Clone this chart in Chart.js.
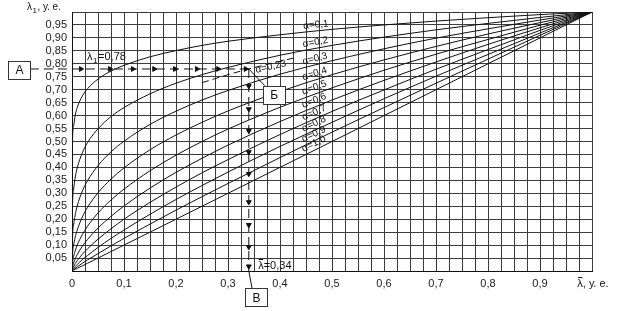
<!DOCTYPE html>
<html>
<head>
<meta charset="utf-8">
<script src="https://cdn.jsdelivr.net/npm/chart.js@4"></script>
<style>
html,body{margin:0;padding:0;background:#fff;}
#wrap{width:617px;height:311px;position:relative;}
</style>
</head>
<body>
<div id="wrap"><canvas id="c"></canvas></div>
<script>
// x values (λ̄, у. е.)
const lambdaBar = [0, 0.001, 0.003, 0.006, 0.01, 0.02, 0.03, 0.05, 0.075, 0.1, 0.15, 0.2, 0.25, 0.3, 0.4, 0.5, 0.6, 0.7, 0.8, 0.9, 1.0];
// λ1 values for each α curve
const alpha01 = [0, 0.501, 0.559, 0.600, 0.631, 0.676, 0.704, 0.741, 0.772, 0.794, 0.827, 0.851, 0.871, 0.887, 0.912, 0.933, 0.950, 0.965, 0.978, 0.990, 1];
const alpha02 = [0, 0.251, 0.313, 0.359, 0.398, 0.457, 0.496, 0.549, 0.596, 0.631, 0.684, 0.725, 0.758, 0.786, 0.833, 0.871, 0.903, 0.931, 0.956, 0.979, 1];
const alpha03 = [0, 0.126, 0.175, 0.215, 0.251, 0.309, 0.349, 0.407, 0.460, 0.501, 0.566, 0.617, 0.660, 0.697, 0.760, 0.812, 0.858, 0.899, 0.935, 0.969, 1];
const alpha04 = [0, 0.063, 0.098, 0.129, 0.158, 0.209, 0.246, 0.302, 0.355, 0.398, 0.468, 0.525, 0.574, 0.618, 0.693, 0.758, 0.815, 0.867, 0.915, 0.959, 1];
const alpha05 = [0, 0.032, 0.055, 0.077, 0.100, 0.141, 0.173, 0.224, 0.274, 0.316, 0.387, 0.447, 0.500, 0.548, 0.632, 0.707, 0.775, 0.837, 0.894, 0.949, 1];
const alpha06 = [0, 0.016, 0.031, 0.046, 0.063, 0.096, 0.122, 0.166, 0.211, 0.251, 0.320, 0.381, 0.435, 0.486, 0.577, 0.660, 0.736, 0.807, 0.875, 0.939, 1];
const alpha07 = [0, 0.008, 0.017, 0.028, 0.040, 0.065, 0.086, 0.123, 0.163, 0.200, 0.265, 0.324, 0.379, 0.430, 0.527, 0.616, 0.699, 0.779, 0.855, 0.929, 1];
const alpha08 = [0, 0.004, 0.010, 0.017, 0.025, 0.044, 0.060, 0.091, 0.126, 0.158, 0.219, 0.276, 0.330, 0.382, 0.481, 0.574, 0.665, 0.752, 0.836, 0.919, 1];
const alpha09 = [0, 0.002, 0.005, 0.010, 0.016, 0.030, 0.043, 0.067, 0.097, 0.126, 0.181, 0.235, 0.287, 0.338, 0.438, 0.536, 0.631, 0.725, 0.818, 0.910, 1];
const alpha10 = [0, 0.001, 0.003, 0.006, 0.010, 0.020, 0.030, 0.050, 0.075, 0.100, 0.150, 0.200, 0.250, 0.300, 0.400, 0.500, 0.600, 0.700, 0.800, 0.900, 1];
const curveSeries = [alpha01, alpha02, alpha03, alpha04, alpha05, alpha06, alpha07, alpha08, alpha09, alpha10];

// dashed α=0,23 fragment
const alpha023X = [0.25, 0.30, 0.34, 0.38, 0.43];
const alpha023Y = [0.727, 0.758, 0.780, 0.800, 0.824];

// curve labels
const curveLabels = ['α=0,1','α=0,2','α=0,3','α=0,4','α=0,5','α=0,6','α=0,7','α=0,8','α=0,9','α=1,0','α=0,23'];
const labelX = [0.47, 0.47, 0.47, 0.47, 0.47, 0.47, 0.47, 0.47, 0.47, 0.47, 0.385];
const labelY = [0.927, 0.860, 0.797, 0.739, 0.686, 0.636, 0.590, 0.547, 0.507, 0.470, 0.766];
const labelAngle = [5.6, 10.3, 14.2, 17.4, 20, 22, 23.6, 24.9, 25.8, 26.5, 13.3];

// worked example: λ1 = 0,78 -> λ̄ = 0,34
const exampleLambda1 = 0.78;
const exampleLambdaBar = 0.34;
const hArrowX = [0.017, 0.073, 0.117, 0.158, 0.198, 0.24, 0.281, 0.334];
const vArrowY = [0.714, 0.625, 0.541, 0.459, 0.375, 0.266, 0.178, 0.093, 0.018];

// boxes
const boxText = ['А', 'Б', 'В'];
const boxX = [-0.102, 0.388, 0.354];
const boxY = [0.776, 0.681, -0.102];

// tick labels
const xTickValues = [0, 0.1, 0.2, 0.3, 0.4, 0.5, 0.6, 0.7, 0.8, 0.9];
const xTickLabels = ['0', '0,1', '0,2', '0,3', '0,4', '0,5', '0,6', '0,7', '0,8', '0,9'];
const xAxisTitle = 'λ, у. е.';

const FONT = '"Liberation Sans", Arial, sans-serif';
const INK = '#111';

const datasets = curveSeries.map((ys, i) => ({
  label: curveLabels[i],
  data: lambdaBar.map((xv, j) => ({x: xv, y: ys[j]})),
  showLine: true,
  borderColor: INK, borderWidth: 1, pointRadius: 0,
  cubicInterpolationMode: 'monotone', fill: false
}));
datasets.push({
  label: 'α=0,23',
  data: alpha023X.map((xv, j) => ({x: xv, y: alpha023Y[j]})),
  showLine: true,
  borderColor: INK, borderWidth: 1, pointRadius: 0, borderDash: [7, 4],
  cubicInterpolationMode: 'monotone', fill: false
});
// horizontal dashed guide
datasets.push({
  label: 'h',
  data: [{x: boxX[0] + 0.021, y: exampleLambda1}, {x: exampleLambdaBar, y: exampleLambda1}],
  showLine: true,
  borderColor: INK, borderWidth: 1, pointRadius: 0, borderDash: [9, 5], clip: false
});
// vertical dashed guide
datasets.push({
  label: 'v',
  data: [{x: exampleLambdaBar, y: exampleLambda1}, {x: exampleLambdaBar, y: 0}],
  showLine: true,
  borderColor: INK, borderWidth: 1, pointRadius: 0, borderDash: [9, 5]
});
// arrow heads
datasets.push({
  label: 'ha',
  data: hArrowX.map(v => ({x: v, y: exampleLambda1})),
  showLine: false, pointStyle: 'triangle', rotation: 90, pointRadius: 2.8,
  backgroundColor: INK, borderColor: INK, borderWidth: 1
});
datasets.push({
  label: 'va',
  data: vArrowY.map(v => ({x: exampleLambdaBar, y: v})),
  showLine: false, pointStyle: 'triangle', rotation: 180, pointRadius: 2.8,
  backgroundColor: INK, borderColor: INK, borderWidth: 1
});

function drawLambda1(ctx, x0, y0, size, rest) {
  ctx.font = size + 'px ' + FONT;
  ctx.textAlign = 'left'; ctx.textBaseline = 'alphabetic';
  ctx.fillText('λ', x0, y0);
  let w = ctx.measureText('λ').width;
  ctx.font = Math.round(size * 0.75) + 'px ' + FONT;
  ctx.fillText('1', x0 + w + 0.5, y0 + 3);
  w += ctx.measureText('1').width + 1;
  ctx.font = size + 'px ' + FONT;
  ctx.fillText(rest, x0 + w, y0);
}
// λ with an overline bar, then the rest
function drawLambdaBar(ctx, x0, y0, size, rest, align) {
  ctx.font = size + 'px ' + FONT;
  ctx.textBaseline = 'alphabetic'; ctx.textAlign = 'left';
  const full = ctx.measureText('λ' + rest).width;
  const left = align === 'center' ? x0 - full / 2 : x0;
  ctx.fillText('λ' + rest, left, y0);
  const lw = ctx.measureText('λ').width;
  ctx.beginPath();
  ctx.moveTo(left + 0.5, y0 - size * 0.9 + 0.5);
  ctx.lineTo(left + lw - 0.5, y0 - size * 0.9 + 0.5);
  ctx.stroke();
}

const annot = {
  id: 'annot',
  afterDatasetsDraw(chart) {
    const {ctx, scales: {x, y}} = chart;
    ctx.save();
    ctx.fillStyle = INK; ctx.strokeStyle = INK; ctx.lineWidth = 1;
    // curve labels
    ctx.font = '10px ' + FONT;
    curveLabels.forEach((t, i) => {
      const px = x.getPixelForValue(labelX[i]);
      const py = y.getPixelForValue(labelY[i]);
      ctx.save();
      ctx.translate(px, py);
      ctx.rotate(-labelAngle[i] * Math.PI / 180);
      ctx.textAlign = 'center'; ctx.textBaseline = 'bottom';
      ctx.fillText(t, 0, -1);
      ctx.restore();
    });
    // leaders
    const ex = x.getPixelForValue(exampleLambdaBar);
    const ey = y.getPixelForValue(exampleLambda1);
    const bw = 22, bh = 18;
    const bB = {cx: x.getPixelForValue(boxX[1]), cy: y.getPixelForValue(boxY[1])};
    const bV = {cx: x.getPixelForValue(boxX[2]), cy: y.getPixelForValue(boxY[2])};
    ctx.beginPath();
    ctx.moveTo(ex, ey); ctx.lineTo(bB.cx - bw / 2 + 2, bB.cy - bh / 2);
    ctx.moveTo(ex, y.getPixelForValue(0)); ctx.lineTo(bV.cx - 4, bV.cy - bh / 2);
    ctx.stroke();
    // boxes
    boxText.forEach((t, i) => {
      const cx = x.getPixelForValue(boxX[i]);
      const cy = y.getPixelForValue(boxY[i]);
      ctx.fillStyle = '#fff';
      ctx.fillRect(Math.round(cx - bw / 2) + 0.5, Math.round(cy - bh / 2) + 0.5, bw, bh);
      ctx.strokeStyle = '#333';
      ctx.strokeRect(Math.round(cx - bw / 2) + 0.5, Math.round(cy - bh / 2) + 0.5, bw, bh);
      ctx.fillStyle = INK;
      ctx.font = '12px ' + FONT;
      ctx.textAlign = 'center'; ctx.textBaseline = 'middle';
      ctx.fillText(t, cx + 0.5, cy + 1);
    });
    // example texts
    ctx.fillStyle = INK; ctx.strokeStyle = INK;
    drawLambda1(ctx, x.getPixelForValue(0.029), y.getPixelForValue(0.815), 11, '=0,78');
    drawLambdaBar(ctx, x.getPixelForValue(0.358), y.getPixelForValue(0.008), 11, '=0,34', 'left');
    // axis titles
    drawLambda1(ctx, x.getPixelForValue(0) - 45, y.getPixelForValue(1) - 2, 10, ', у. е.');
    drawLambdaBar(ctx, x.getPixelForValue(1) + 1, y.getPixelForValue(0) + 16, 11, xAxisTitle.slice(1), 'center');
    ctx.restore();
  }
};

new Chart(document.getElementById('c'), {
  type: 'scatter',
  data: {datasets},
  options: {
    responsive: true, maintainAspectRatio: false, animation: false,
    layout: {padding: {top: 12, right: 25, left: 0, bottom: 0}},
    plugins: {legend: {display: false}, tooltip: {enabled: false}},
    elements: {line: {tension: 0}},
    scales: {
      x: {
        type: 'linear', min: 0, max: 1,
        afterFit(s) { s.height = 40; },
        border: {display: true, color: INK, width: 1},
        grid: {color: '#3c3c3c', lineWidth: 1, drawTicks: false},
        ticks: {
          stepSize: 0.025, autoSkip: false, maxTicksLimit: 100, maxRotation: 0, padding: 6,
          color: '#222', font: {family: FONT, size: 11},
          callback(v) {
            const k = xTickValues.findIndex(t => Math.abs(t - v) < 1e-6);
            return k >= 0 ? xTickLabels[k] : '';
          }
        }
      },
      y: {
        type: 'linear', min: 0, max: 1,
        afterFit(s) { s.width = 72; },
        border: {display: true, color: INK, width: 1},
        grid: {color: '#3c3c3c', lineWidth: 1, drawTicks: false},
        ticks: {
          stepSize: 0.05, autoSkip: false, maxTicksLimit: 100, padding: 5,
          color: '#222', font: {family: FONT, size: 11},
          callback(v) {
            const r = Math.round(v * 100) / 100;
            if (r <= 0 || r >= 1) return '';
            return r.toFixed(2).replace('.', ',');
          }
        }
      }
    }
  },
  plugins: [annot]
});
</script>
</body>
</html>
